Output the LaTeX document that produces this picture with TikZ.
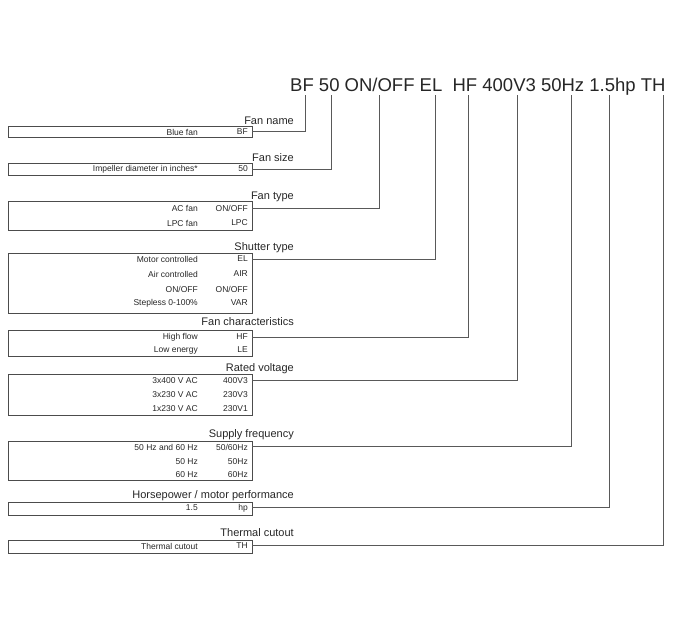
\documentclass[tikz,border=0pt]{standalone}
\usepackage{fontspec}
\setmainfont{Liberation Sans}
\begin{document}
\begin{tikzpicture}[x=1pt,y=-1pt,
  box/.style={draw=black!70,line width=0.6pt},
  row/.style={font=\fontsize{8.5}{9}\selectfont,anchor=east,inner sep=0pt,text=black!85},
  ttl/.style={font=\fontsize{11}{12}\selectfont,anchor=base east,inner sep=0pt,text=black!85},
  con/.style={draw=black!65,line width=0.6pt}]
\useasboundingbox (0,0) rectangle (680,630);
\node[font=\fontsize{18.5}{20}\selectfont,anchor=base west,inner sep=0pt,text=black!85] (hdr) at (290,91) {BF 50 ON/OFF EL\ \ HF 400V3 50Hz 1.5hp TH};
\foreach \n/\x in {a/305,b/331,c/379,d/435,e/468,f/517,g/571,h/609,i/663}{\coordinate (t\n) at (\x,95);}
\draw[box] (8,126) rectangle (252,137); \node[ttl] (n1) at (294,124) {Fan name};
\node[row] (r1a) at (198,132) {Blue fan}; \node[row] (c1a) at (248,132) {BF};
\draw[box] (8,163) rectangle (252,175); \node[ttl] (n2) at (294,161) {Fan size};
\node[row] (r2a) at (198,169) {Impeller diameter in inches*}; \node[row] (c2a) at (248,169) {50};
\draw[box] (8,201) rectangle (252,230); \node[ttl] (n3) at (294,199) {Fan type};
\node[row] at (198,208) {AC fan}; \node[row] at (248,208) {ON/OFF};
\node[row] at (198,223) {LPC fan}; \node[row] at (248,223) {LPC};
\draw[box] (8,253) rectangle (252,313); \node[ttl] (n4) at (294,250) {Shutter type};
\node[row] at (198,259) {Motor controlled}; \node[row] at (248,259) {EL};
\node[row] at (198,274) {Air controlled}; \node[row] at (248,274) {AIR};
\node[row] at (198,289) {ON/OFF}; \node[row] at (248,289) {ON/OFF};
\node[row] at (198,303) {Stepless 0-100\%}; \node[row] at (248,303) {VAR};
\draw[box] (8,330) rectangle (252,356); \node[ttl] (n5) at (294,325) {Fan characteristics};
\node[row] at (198,337) {High flow}; \node[row] at (248,337) {HF};
\node[row] at (198,350) {Low energy}; \node[row] at (248,350) {LE};
\draw[box] (8,374) rectangle (252,415); \node[ttl] (n6) at (294,371) {Rated voltage};
\node[row] at (198,381) {3x400 V AC}; \node[row] at (248,381) {400V3};
\node[row] at (198,395) {3x230 V AC}; \node[row] at (248,395) {230V3};
\node[row] at (198,409) {1x230 V AC}; \node[row] at (248,409) {230V1};
\draw[box] (8,441) rectangle (252,480); \node[ttl] (n7) at (294,437) {Supply frequency};
\node[row] at (198,447) {50 Hz and 60 Hz}; \node[row] at (248,447) {50/60Hz};
\node[row] at (198,462) {50 Hz}; \node[row] at (248,462) {50Hz};
\node[row] at (198,475) {60 Hz}; \node[row] at (248,475) {60Hz};
\draw[box] (8,502) rectangle (252,515); \node[ttl] (n8) at (294,498) {Horsepower / motor performance};
\node[row] at (198,508) {1.5}; \node[row] at (248,508) {hp};
\draw[box] (8,540) rectangle (252,553); \node[ttl] (n9) at (294,536) {Thermal cutout};
\node[row] at (198,546) {Thermal cutout}; \node[row] at (248,546) {TH};
\foreach \y/\n in {131/a,169/b,208/c,259/d,337/e,380/f,446/g,507/h,545/i}{
  \draw[con] (252,\y) -| (t\n);}
\end{tikzpicture}
\end{document}
